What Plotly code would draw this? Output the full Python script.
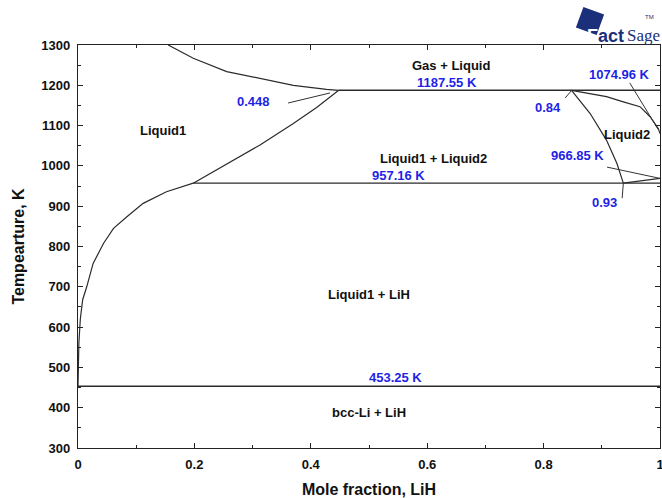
import plotly.graph_objects as go

# ---------------- data ----------------
# Liquid1 liquidus (LiH saturation), from Li side to monotectic
liq1_x = [0.0, 0.0004, 0.0015, 0.004, 0.008, 0.015, 0.026, 0.044, 0.061, 0.084, 0.112, 0.152, 0.198]
liq1_T = [453.25, 500, 560, 620, 668, 700, 758, 808, 845, 874, 907, 936, 957.16]

# Liquid1 side of the miscibility gap
gap1_x = [0.198, 0.25, 0.3127, 0.37, 0.41, 0.448]
gap1_T = [957.16, 1000, 1052, 1105, 1145, 1187.55]

# Gas + Liquid boundary (left)
gas_x = [0.155, 0.198, 0.2555, 0.3127, 0.37, 0.427, 0.448]
gas_T = [1300, 1267, 1234, 1217, 1200, 1190, 1187.55]

# Liquid2 side of the miscibility gap
gap2_x = [0.848, 0.88, 0.908, 0.926, 0.937]
gap2_T = [1187.55, 1130, 1064, 1006, 957.16]

# Gas + Liquid2 boundary (right)
gas2_x = [0.848, 0.908, 0.937, 0.9656, 0.983, 0.997, 1.0]
gas2_T = [1187.55, 1172, 1159, 1147, 1122, 1093, 1080]

# Liquid2 liquidus
liq2_x = [0.937, 1.0]
liq2_T = [957.16, 969]

# invariant lines
iso_T = [1187.55, 957.16, 453.25]
iso_x0 = [0.448, 0.198, 0.0]
iso_x1 = [1.0, 1.0, 1.0]

# value labels (blue) and their leader lines
val_text = ["1187.55 K", "0.448", "1074.96 K", "0.84", "966.85 K", "957.16 K", "0.93", "453.25 K"]
val_x = [0.634, 0.301, 0.93, 0.8076, 0.859, 0.5515, 0.904, 0.546]
val_T = [1208, 1158.6, 1225.6, 1143.7, 1024.6, 975, 908, 476]

leaders = [
    ([0.361, 0.433], [1156, 1181]),
    ([0.837, 0.848], [1168.5, 1187]),
    ([0.948, 0.997], [1206, 1090]),
    ([0.909, 1.0], [997, 969]),
    ([0.935, 0.937], [920, 957]),
]

# phase region labels (black)
reg_text = ["Gas + Liquid", "Liquid1", "Liquid1 + Liquid2", "Liquid2", "Liquid1 + LiH", "bcc-Li + LiH"]
reg_x = [0.641, 0.146, 0.61, 0.943, 0.5, 0.5]
reg_T = [1250, 1089, 1019.6, 1079, 680, 389]

x_ticks = [0, 0.2, 0.4, 0.6, 0.8, 1]
x_tick_labels = ["0", "0.2", "0.4", "0.6", "0.8", "1"]
y_ticks = [300, 400, 500, 600, 700, 800, 900, 1000, 1100, 1200, 1300]

# ---------------- figure ----------------
W, H = 662, 498
ML, MT, MR, MB = 78, 45, 2, 50

LINE = dict(color="#2b2b2b", width=1.2)
fig = go.Figure()

for xs, ys in [(liq1_x, liq1_T), (gap1_x, gap1_T), (gas_x, gas_T),
               (gap2_x, gap2_T), (gas2_x, gas2_T), (liq2_x, liq2_T)]:
    fig.add_trace(go.Scatter(x=xs, y=ys, mode="lines", line=LINE,
                             hoverinfo="skip", showlegend=False))

for T, a, b in zip(iso_T, iso_x0, iso_x1):
    fig.add_trace(go.Scatter(x=[a, b], y=[T, T], mode="lines",
                             line=dict(color="#2b2b2b", width=1.4),
                             hoverinfo="skip", showlegend=False))

for xs, ys in leaders:
    fig.add_trace(go.Scatter(x=xs, y=ys, mode="lines",
                             line=dict(color="#333333", width=1),
                             hoverinfo="skip", showlegend=False))

FONT = "Liberation Sans, Arial, sans-serif"
for t, x, y in zip(val_text, val_x, val_T):
    fig.add_annotation(x=x, y=y, text="<b>%s</b>" % t, showarrow=False,
                       font=dict(family=FONT, size=13, color="#1f1fe6"))
for t, x, y in zip(reg_text, reg_x, reg_T):
    fig.add_annotation(x=x, y=y, text="<b>%s</b>" % t, showarrow=False,
                       font=dict(family=FONT, size=13, color="#111111"))

# FactSage logo (positions given in page pixels)
PW = W - ML - MR
PH = H - MT - MB


def P(px, py):
    return (px - ML) / PW, (MT + PH - py) / PH


NAVY = "#1c2f7a"
pts = [P(596.6, 35.1), P(575.9, 27.6), P(583.4, 6.9), P(604.1, 14.4)]
path = "M " + " L ".join("%.4f,%.4f" % p for p in pts) + " Z"
fig.add_shape(type="path", path=path, xref="paper", yref="paper",
              fillcolor=NAVY, line=dict(width=0), layer="below")
fx, fy = P(585, 24)
fig.add_annotation(x=fx, y=fy, xref="paper", yref="paper", showarrow=False,
                   xanchor="left",
                   text="<b><span style='color:#ffffff'>F</span>act</b>",
                   font=dict(family=FONT, size=18, color=NAVY))
sx, sy = P(625, 24)
fig.add_annotation(x=sx, y=sy, xref="paper", yref="paper", showarrow=False,
                   xanchor="left", text="Sage",
                   font=dict(family="Liberation Serif, serif", size=17, color=NAVY))
tx, ty = P(656, 12)
fig.add_annotation(x=tx, y=ty, xref="paper", yref="paper", showarrow=False,
                   text="TM", font=dict(family=FONT, size=6, color=NAVY))

axis_common = dict(showline=True, linecolor="#222222", linewidth=1.3, mirror="allticks",
                   ticks="inside", ticklen=5, tickcolor="#222222", showgrid=False,
                   zeroline=False, ticklabelstandoff=4, ticklabeloverflow="allow",
                   automargin=False,
                   tickfont=dict(family=FONT, size=13, color="#111111", weight="bold"))

fig.update_xaxes(range=[0, 1], tickvals=x_ticks, ticktext=x_tick_labels,
                 minor=dict(ticks="inside", dtick=0.1, ticklen=3, tickcolor="#222222"),
                 title=dict(text="<b>Mole fraction, LiH</b>", standoff=14,
                            font=dict(family=FONT, size=16, color="#111111")),
                 **axis_common)
fig.update_yaxes(range=[300, 1300], tickvals=y_ticks,
                 minor=dict(ticks="inside", dtick=50, ticklen=3, tickcolor="#222222"),
                 title=dict(text="<b>Tempearture, K</b>", standoff=12,
                            font=dict(family=FONT, size=16, color="#111111")),
                 **axis_common)

fig.update_layout(width=W, height=H,
                  margin=dict(l=ML, r=MR, t=MT, b=MB, autoexpand=False),
                  plot_bgcolor="white", paper_bgcolor="white")

# remove the default 8px page margin so the 662x498 figure fills the window exactly
fig.write_html("out.html", config={"displayModeBar": False},
               post_script="document.body.style.margin='0';document.body.style.overflow='hidden';")
